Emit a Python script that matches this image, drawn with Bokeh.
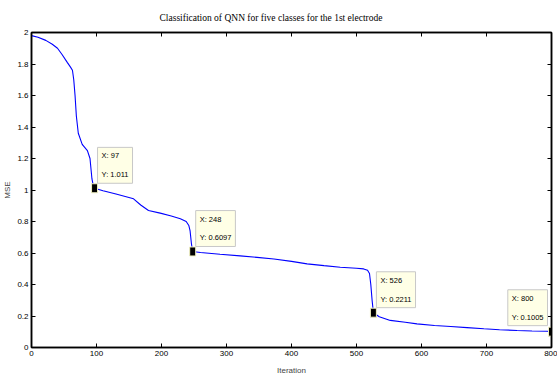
from bokeh.plotting import figure
from bokeh.models import LinearAxis, FixedTicker, Label
from bokeh.embed import file_html
from bokeh.resources import INLINE

# ---- data ----
iteration = [0, 10, 22, 32, 40, 47, 55, 60, 63, 65, 67, 69, 72, 78, 86, 90, 93, 95, 97,
             110, 130, 157, 168, 180, 198, 215, 229, 238, 242, 244, 246, 248,
             260, 290, 321, 347, 373, 400, 424, 450, 475, 500, 511, 517, 520, 522, 524, 526,
             535, 552, 575, 593, 620, 645, 670, 696, 720, 747, 770, 793, 800]
mse = [1.98, 1.97, 1.95, 1.925, 1.90, 1.86, 1.81, 1.78, 1.76, 1.70, 1.60, 1.47, 1.36, 1.29, 1.25, 1.20, 1.07, 1.03, 1.011,
       0.995, 0.975, 0.944, 0.905, 0.87, 0.853, 0.835, 0.817, 0.80, 0.775, 0.74, 0.66, 0.6097,
       0.603, 0.592, 0.582, 0.572, 0.562, 0.547, 0.531, 0.52, 0.51, 0.503, 0.499, 0.49, 0.47, 0.40, 0.30, 0.2211,
       0.195, 0.172, 0.16, 0.15, 0.14, 0.133, 0.126, 0.119, 0.113, 0.108, 0.105, 0.103, 0.1005]

tip_x = [97, 248, 526, 800]
tip_y = [1.011, 0.6097, 0.2211, 0.1005]
tip_text = ["X: 97\nY: 1.011", "X: 248\nY: 0.6097", "X: 526\nY: 0.2211", "X: 800\nY: 0.1005"]

x_ticks = [0, 100, 200, 300, 400, 500, 600, 700, 800]
x_tick_labels = ["0", "100", "200", "300", "400", "500", "600", "700", "800"]
y_ticks = [0, 0.2, 0.4, 0.6, 0.8, 1.0, 1.2, 1.4, 1.6, 1.8, 2.0]
y_tick_labels = ["0", "0.2", "0.4", "0.6", "0.8", "1", "1.2", "1.4", "1.6", "1.8", "2"]

title_text = "Classification of QNN for five classes for the 1st electrode"
x_label = "Iteration"
y_label = "MSE"

NARROW = "'Liberation Sans Narrow', 'Arial Narrow', 'Liberation Sans', sans-serif"

p = figure(width=557, height=379, output_backend="svg", toolbar_location=None,
           x_range=(0, 800), y_range=(0, 2),
           min_border_left=31, min_border_right=6, min_border_top=32, min_border_bottom=32,
           x_axis_location=None, y_axis_location=None)
p.xgrid.visible = False
p.ygrid.visible = False
p.outline_line_color = "black"
p.outline_line_width = 1.5
p.background_fill_color = "white"
p.border_fill_color = "white"

p.title.text = title_text
p.title.text_font = "Liberation Serif"
p.title.text_font_size = "9.5px"
p.title.text_font_style = "normal"
p.title.align = "left"
p.title.offset = 128
p.title.vertical_align = "top"
p.title.standoff = 16
p.title.padding = 0
p.title.text_color = "black"


def make_axis(ticks, labels, show_labels, axis_label=None, label_standoff=2):
    ax = LinearAxis(ticker=FixedTicker(ticks=ticks))
    ax.major_tick_in = 4
    ax.major_tick_out = 0
    ax.minor_tick_in = 0
    ax.minor_tick_out = 0
    ax.axis_line_color = "black"
    ax.axis_line_width = 1.5
    ax.major_tick_line_color = "black"
    ax.major_label_text_font = NARROW
    ax.major_label_text_color = "black"
    ax.major_label_text_font_size = "8px"
    if show_labels:
        ax.major_label_overrides = {t: l for t, l in zip(ticks, labels)}
        ax.major_label_standoff = 3
        if axis_label:
            ax.axis_label = axis_label
            ax.axis_label_text_font = NARROW
            ax.axis_label_text_font_size = "8px"
            ax.axis_label_text_font_style = "normal"
            ax.axis_label_standoff = label_standoff
    else:
        ax.major_label_overrides = {t: "" for t in ticks}
        ax.major_label_standoff = 0
    return ax


p.add_layout(make_axis(x_ticks, x_tick_labels, True, x_label, 7), "below")
p.add_layout(make_axis(y_ticks, y_tick_labels, True, y_label, 2), "left")
p.add_layout(make_axis(x_ticks, x_tick_labels, False), "above")
p.add_layout(make_axis(y_ticks, y_tick_labels, False), "right")

p.line(iteration, mse, line_color="#0000ff", line_width=1.1)

p.rect(tip_x, tip_y, width=6, height=9, width_units="screen", height_units="screen",
       fill_color="black", line_color="#f0f0c0", line_width=1)

for i, (tx, ty, tt) in enumerate(zip(tip_x, tip_y, tip_text)):
    last = i == len(tip_x) - 1
    lab = Label(x=tx, y=ty, text=tt,
                x_offset=-4 if last else 3, y_offset=6 if last else 5,
                anchor="bottom_right" if last else "bottom_left",
                text_font=NARROW, text_font_size="7.5px", text_color="black",
                text_line_height=2.1, padding=4,
                background_fill_color="#ffffe6", background_fill_alpha=1.0,
                border_line_color="#c8c8c8", border_line_width=1)
    p.add_layout(lab)

open("out.html", "w").write(file_html(p, INLINE))
